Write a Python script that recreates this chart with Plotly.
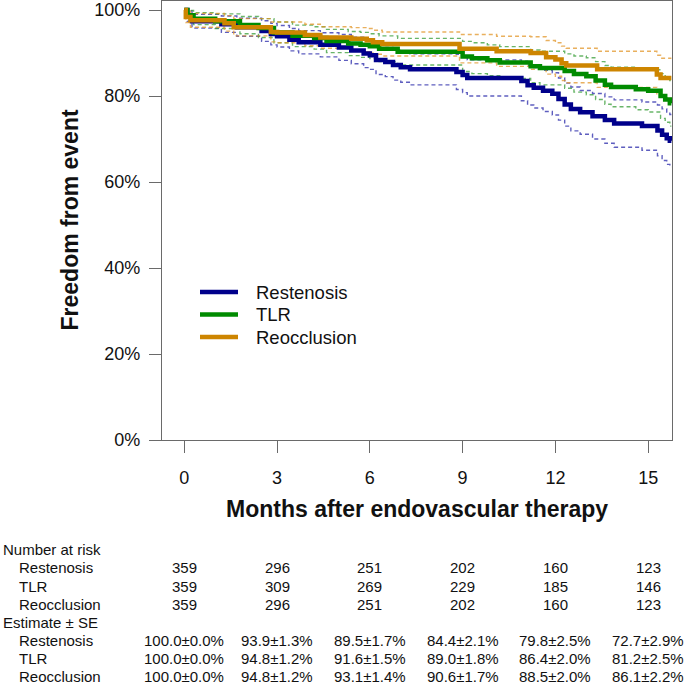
import plotly.graph_objects as go

# ---------------- data ----------------
months_ticks = [0, 3, 6, 9, 12, 15]
series_names = ["Restenosis", "TLR", "Reocclusion"]

# Restenosis (Kaplan-Meier step estimate and dashed confidence bounds, %)
rest_t = [0, 0.1, 0.25, 1.2, 1.7, 2.5, 2.8, 3.0, 3.4, 3.7, 4.4, 5.0, 5.4, 5.8, 6.0, 6.2, 6.5, 6.75, 7.0, 7.3,
          8.8, 9.0, 9.15, 10.9, 11.1, 11.3, 11.6, 11.9, 12.1, 12.3, 12.5, 12.8, 13.2, 13.6, 13.9, 14.8,
          15.3, 15.45, 15.6, 15.7, 15.75]
rest_s = [100, 98.6, 97.4, 96.7, 96.0, 95.1, 94.4, 93.9, 93.1, 92.5, 91.9, 91.3, 90.6, 89.9, 89.5, 88.4, 87.9,
          87.2, 86.7, 86.2, 85.6, 84.9, 84.2, 83.5, 82.5, 81.9, 81.2, 80.5, 79.3, 78.0, 77.0, 76.2, 75.3, 74.4,
          73.6, 73.0, 72.0, 71.0, 70.2, 69.6, 69.6]
rest_hi = [100, 99.8, 99.0, 98.6, 98.1, 97.5, 96.9, 96.4, 95.7, 95.2, 94.7, 94.3, 93.7, 93.2, 92.8, 91.8, 91.3,
           90.7, 90.2, 89.8, 89.7, 89.0, 88.4, 88.1, 87.1, 86.6, 86.0, 85.4, 84.2, 83.0, 82.1, 81.3, 80.6, 79.8,
           79.1, 78.6, 77.9, 77.0, 76.3, 75.7, 75.7]
rest_lo = [100, 97.4, 95.8, 94.8, 93.9, 92.7, 91.9, 91.4, 90.5, 89.8, 89.1, 88.3, 87.5, 86.6, 86.2, 85.0, 84.5,
           83.7, 83.2, 82.6, 81.5, 80.8, 80.0, 78.9, 77.9, 77.2, 76.4, 75.6, 74.4, 73.0, 71.9, 71.1, 70.0, 69.0,
           68.1, 67.4, 66.1, 65.0, 64.1, 63.5, 63.5]

# TLR
tlr_t = [0, 0.1, 0.3, 1.0, 1.8, 2.4, 2.9, 3.5, 4.2, 4.6, 5.3, 5.7, 6.0, 6.3, 6.9, 9.0, 9.3, 9.8, 10.2, 11.2,
         11.5, 12.3, 12.6, 13.0, 13.3, 13.6, 13.8, 14.6, 15.0, 15.4, 15.55, 15.7, 15.75]
tlr_s = [100, 98.8, 98.0, 97.4, 96.5, 95.8, 94.8, 94.0, 93.5, 92.8, 92.2, 91.9, 91.6, 91.0, 90.3, 89.2, 88.8,
         88.3, 87.8, 86.9, 86.5, 85.8, 85.1, 84.6, 83.6, 82.6, 82.1, 81.6, 81.2, 80.0, 79.2, 78.3, 78.3]
tlr_hi = [100, 99.9, 99.4, 99.1, 98.5, 98.0, 97.2, 96.5, 96.1, 95.5, 95.0, 94.8, 94.5, 94.0, 93.4, 92.7, 92.4,
          91.9, 91.5, 90.7, 90.4, 89.8, 89.3, 88.9, 88.0, 87.1, 86.7, 86.4, 86.1, 85.2, 84.5, 83.6, 83.6]
tlr_lo = [100, 97.7, 96.6, 95.7, 94.5, 93.6, 92.4, 91.5, 90.9, 90.1, 89.4, 89.0, 88.7, 88.0, 87.2, 85.7, 85.2,
          84.7, 84.1, 83.1, 82.6, 81.8, 80.9, 80.3, 79.2, 78.1, 77.5, 76.8, 76.3, 74.8, 73.9, 73.0, 73.0]

# Reocclusion
reo_t = [0, 0.05, 0.2, 1.3, 1.6, 2.8, 3.0, 3.9, 4.4, 5.4, 5.9, 6.1, 6.4, 8.9, 10.1, 11.2, 11.7, 12.0, 12.2,
         12.35, 13.35, 15.28, 15.4, 15.75]
reo_s = [100, 98.4, 97.6, 96.9, 96.0, 94.9, 94.8, 94.2, 93.6, 93.3, 93.0, 92.5, 92.1, 91.0, 90.4, 90.0, 89.0,
         88.5, 87.6, 87.1, 86.2, 85.0, 84.2, 84.2]
reo_hi = [100, 99.7, 99.2, 98.7, 98.0, 97.2, 97.2, 96.7, 96.1, 95.9, 95.7, 95.3, 94.9, 94.3, 93.9, 93.8, 92.9,
          92.4, 91.6, 91.1, 90.4, 89.5, 88.8, 88.8]
reo_lo = [100, 97.1, 96.0, 95.1, 94.0, 92.6, 92.4, 91.7, 91.1, 90.7, 90.3, 89.7, 89.3, 87.7, 86.9, 86.2, 85.1,
          84.6, 83.6, 83.1, 82.0, 80.5, 79.6, 79.6]

# table below the plot
at_risk = {
    "Restenosis": [359, 296, 251, 202, 160, 123],
    "TLR": [359, 309, 269, 229, 185, 146],
    "Reocclusion": [359, 296, 251, 202, 160, 123],
}
estimate_se = {
    "Restenosis": ["100.0±0.0%", "93.9±1.3%", "89.5±1.7%", "84.4±2.1%", "79.8±2.5%", "72.7±2.9%"],
    "TLR": ["100.0±0.0%", "94.8±1.2%", "91.6±1.5%", "89.0±1.8%", "86.4±2.0%", "81.2±2.5%"],
    "Reocclusion": ["100.0±0.0%", "94.8±1.2%", "93.1±1.4%", "90.6±1.7%", "88.5±2.0%", "86.1±2.2%"],
}

# ---------------- style ----------------
FONT = "Liberation Sans, Arial, sans-serif"
colors = {"Restenosis": "#00008B", "TLR": "#008B00", "Reocclusion": "#CD8500"}
ci_colors = {"Restenosis": "rgba(40,40,170,0.75)", "TLR": "rgba(40,150,40,0.7)",
             "Reocclusion": "rgba(225,150,40,0.75)"}
AX = "#6a6a6a"

data = {
    "Restenosis": (rest_t, rest_s, rest_hi, rest_lo),
    "TLR": (tlr_t, tlr_s, tlr_hi, tlr_lo),
    "Reocclusion": (reo_t, reo_s, reo_hi, reo_lo),
}

fig = go.Figure()
for name in series_names:
    t, s, hi, lo = data[name]
    for band in (hi, lo):
        fig.add_trace(go.Scatter(x=t, y=band, mode="lines", line_shape="hv",
                                 line=dict(color=ci_colors[name], width=1.4, dash="4px,3px"),
                                 showlegend=False, hoverinfo="skip"))
for name in series_names:
    t, s, hi, lo = data[name]
    fig.add_trace(go.Scatter(x=t, y=s, mode="lines", line_shape="hv", name=name,
                             line=dict(color=colors[name], width=4.5), showlegend=False))

W, H = 685, 685
ml, mr, mt, mb = 162, 13, 1, 245
ph = H - mt - mb
pw = W - ml - mr


def py2paper(py):
    return (H - mb - py) / ph


def px2paper(px):
    return (px - ml) / pw


ann = []
shapes = []
# axis titles
ann.append(dict(text="<b>Freedom from event</b>", xref="paper", yref="paper", x=px2paper(69), y=0.5,
                textangle=-90, showarrow=False, font=dict(family=FONT, size=23, color="#111"),
                xanchor="center", yanchor="middle"))
ann.append(dict(text="<b>Months after endovascular therapy</b>", xref="paper", yref="paper", x=0.5,
                y=py2paper(509), showarrow=False, font=dict(family=FONT, size=23, color="#111"),
                xanchor="center", yanchor="middle"))

# legend (key lines + labels)
legend_rows = [292, 314.5, 337]
for name, ry in zip(series_names, legend_rows):
    shapes.append(dict(type="line", xref="paper", yref="paper", x0=px2paper(200), x1=px2paper(238),
                       y0=py2paper(ry), y1=py2paper(ry), line=dict(color=colors[name], width=4.5)))
    ann.append(dict(text=name, xref="paper", yref="paper", x=px2paper(254), y=py2paper(ry),
                    showarrow=False, xanchor="left", yanchor="middle",
                    font=dict(family=FONT, size=18.5, color="#111")))

tfont = dict(family=FONT, size=15, color="#111")
rows_y = [549.5, 567.5, 586, 604, 622.5, 640.5, 658.5, 676.5]
ann.append(dict(text="Number at risk", xref="paper", yref="paper", x=px2paper(1), y=py2paper(rows_y[0]),
                showarrow=False, xanchor="left", yanchor="middle", font=tfont))
for i, name in enumerate(series_names):
    ann.append(dict(text=name, xref="paper", yref="paper", x=px2paper(17), y=py2paper(rows_y[1 + i]),
                    showarrow=False, xanchor="left", yanchor="middle", font=tfont))
    for m, v in zip(months_ticks, at_risk[name]):
        ann.append(dict(text=str(v), xref="x", yref="paper", x=m, y=py2paper(rows_y[1 + i]),
                        showarrow=False, xanchor="center", yanchor="middle", font=tfont))
ann.append(dict(text="Estimate ± SE", xref="paper", yref="paper", x=px2paper(1), y=py2paper(rows_y[4]),
                showarrow=False, xanchor="left", yanchor="middle", font=tfont))
for i, name in enumerate(series_names):
    ann.append(dict(text=name, xref="paper", yref="paper", x=px2paper(17), y=py2paper(rows_y[5 + i]),
                    showarrow=False, xanchor="left", yanchor="middle", font=tfont))
    for m, v in zip(months_ticks, estimate_se[name]):
        ann.append(dict(text=v, xref="x", yref="paper", x=m, y=py2paper(rows_y[5 + i]),
                        showarrow=False, xanchor="center", yanchor="middle", font=tfont))

fig.update_layout(
    width=W, height=H,
    margin=dict(l=ml, r=mr, t=mt, b=mb, pad=0),
    paper_bgcolor="white", plot_bgcolor="white",
    font=dict(family=FONT, size=18, color="#111"),
    showlegend=False,
    annotations=ann,
    shapes=shapes,
    xaxis=dict(range=[-0.72, 15.77], tickvals=months_ticks, ticks="outside", ticklen=12,
               tickcolor=AX, tickwidth=1.2, showline=True, mirror=True, linecolor=AX, linewidth=1.3,
               showgrid=False, zeroline=False, tickfont=dict(family=FONT, size=18, color="#111"),
               ticklabelstandoff=9),
    yaxis=dict(range=[0, 102.1], tickvals=[0, 20, 40, 60, 80, 100],
               ticktext=["0%", "20%", "40%", "60%", "80%", "100%"], ticks="outside", ticklen=12,
               tickcolor=AX, tickwidth=1.2, showline=True, mirror=True, linecolor=AX, linewidth=1.3,
               showgrid=False, zeroline=False, tickfont=dict(family=FONT, size=18, color="#111"),
               ticklabelstandoff=5),
)

fig.write_html("out.html", config={"displayModeBar": False},
               post_script="document.body.style.margin='0';document.body.style.overflow='hidden';")
